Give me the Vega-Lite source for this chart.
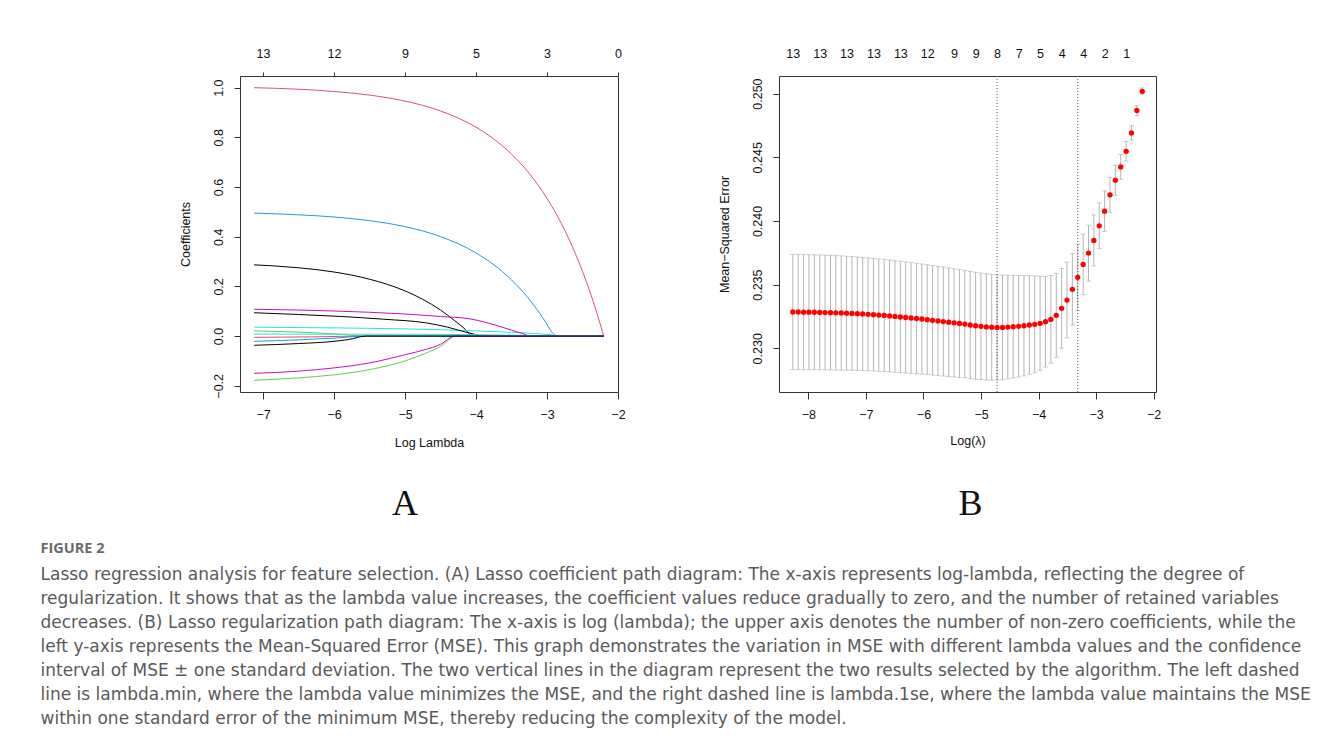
{
  "$schema": "https://vega.github.io/schema/vega-lite/v6.json",
  "background": "white",
  "padding": {"left": 40, "top": 46, "right": 10, "bottom": 10},
  "config": {
    "view": {"stroke": "#333333", "strokeWidth": 1},
    "font": "Liberation Sans",
    "axis": {"domain": false, "grid": false, "labelFont": "Liberation Sans", "labelFontSize": 12.5, "labelColor": "#111111", "titleFont": "Liberation Sans", "titleFontSize": 12.5, "titleFontWeight": "normal", "titleColor": "#111111", "tickColor": "#333333", "labelFlush": false, "labelOverlap": false}
  },
  "title": {
    "text": "FIGURE 2",
    "subtitle": [
      "Lasso regression analysis for feature selection. (A) Lasso coefficient path diagram: The x-axis represents log-lambda, reflecting the degree of",
      "regularization. It shows that as the lambda value increases, the coefficient values reduce gradually to zero, and the number of retained variables",
      "decreases. (B) Lasso regularization path diagram: The x-axis is log (lambda); the upper axis denotes the number of non-zero coefficients, while the",
      "left y-axis represents the Mean-Squared Error (MSE). This graph demonstrates the variation in MSE with different lambda values and the confidence",
      "interval of MSE ± one standard deviation. The two vertical lines in the diagram represent the two results selected by the algorithm. The left dashed",
      "line is lambda.min, where the lambda value minimizes the MSE, and the right dashed line is lambda.1se, where the lambda value maintains the MSE",
      "within one standard error of the minimum MSE, thereby reducing the complexity of the model."
    ],
    "orient": "bottom",
    "anchor": "start",
    "frame": "bounds",
    "font": "Open Sans",
    "fontSize": 14.5,
    "fontWeight": "bold",
    "color": "#6b6b6b",
    "subtitleFont": "DejaVu Sans",
    "subtitleFontSize": 17,
    "subtitleColor": "#5a5a5a",
    "subtitleLineHeight": 24,
    "subtitlePadding": 11,
    "offset": 19,
    "dx": -138
  },
  "spacing": 91,
  "hconcat": [
    {
      "width": 378,
      "height": 316,
      "title": {"text": "A", "orient": "bottom", "anchor": "middle", "font": "Liberation Serif", "fontSize": 36, "fontWeight": "normal", "color": "#111111", "offset": 38, "dx": -24},
      "layer": [
        {
          "data": {"values": [
            {"v":"v01","x":-7.127,"y":0.287},{"v":"v01","x":-6.5,"y":0.275},{"v":"v01","x":-6.0,"y":0.258},{"v":"v01","x":-5.5,"y":0.229},{"v":"v01","x":-5.0,"y":0.182},{"v":"v01","x":-4.75,"y":0.148},{"v":"v01","x":-4.5,"y":0.105},{"v":"v01","x":-4.3,"y":0.062},{"v":"v01","x":-4.15,"y":0.027},{"v":"v01","x":-4.05,"y":0},{"v":"v01","x":-2.2,"y":0},
            {"v":"v02","x":-7.127,"y":1.0},{"v":"v02","x":-6.5,"y":0.9937},{"v":"v02","x":-6.0,"y":0.9847},{"v":"v02","x":-5.5,"y":0.9701},{"v":"v02","x":-5.0,"y":0.946},{"v":"v02","x":-4.5,"y":0.9063},{"v":"v02","x":-4.0,"y":0.8408},{"v":"v02","x":-3.75,"y":0.7935},{"v":"v02","x":-3.5,"y":0.7328},{"v":"v02","x":-3.25,"y":0.6548},{"v":"v02","x":-3.0,"y":0.5547},{"v":"v02","x":-2.8,"y":0.4545},{"v":"v02","x":-2.6,"y":0.3321},{"v":"v02","x":-2.4,"y":0.1826},{"v":"v02","x":-2.3,"y":0.0958},{"v":"v02","x":-2.2,"y":0},
            {"v":"v03","x":-7.127,"y":0.021},{"v":"v03","x":-6.5,"y":0.016},{"v":"v03","x":-6.0,"y":0.009},{"v":"v03","x":-5.55,"y":0},{"v":"v03","x":-2.2,"y":0},
            {"v":"v04","x":-7.127,"y":0.495},{"v":"v04","x":-6.5,"y":0.4883},{"v":"v04","x":-6.0,"y":0.4794},{"v":"v04","x":-5.5,"y":0.4647},{"v":"v04","x":-5.0,"y":0.4405},{"v":"v04","x":-4.5,"y":0.4006},{"v":"v04","x":-4.0,"y":0.3348},{"v":"v04","x":-3.75,"y":0.2873},{"v":"v04","x":-3.5,"y":0.2263},{"v":"v04","x":-3.25,"y":0.148},{"v":"v04","x":-3.1,"y":0.0907},{"v":"v04","x":-3.0,"y":0.0474},{"v":"v04","x":-2.944,"y":0.021},{"v":"v04","x":-2.88,"y":0.003},{"v":"v04","x":-2.86,"y":0},{"v":"v04","x":-2.2,"y":0},
            {"v":"v05","x":-7.127,"y":0.036},{"v":"v05","x":-6.0,"y":0.033},{"v":"v05","x":-5.0,"y":0.029},{"v":"v05","x":-4.0,"y":0.021},{"v":"v05","x":-3.5,"y":0.015},{"v":"v05","x":-3.0,"y":0.007},{"v":"v05","x":-2.75,"y":0},{"v":"v05","x":-2.2,"y":0},
            {"v":"v06","x":-7.127,"y":0.108},{"v":"v06","x":-6.5,"y":0.105},{"v":"v06","x":-6.0,"y":0.101},{"v":"v06","x":-5.5,"y":0.096},{"v":"v06","x":-5.0,"y":0.089},{"v":"v06","x":-4.5,"y":0.079},{"v":"v06","x":-4.1,"y":0.07},{"v":"v06","x":-3.9,"y":0.058},{"v":"v06","x":-3.7,"y":0.042},{"v":"v06","x":-3.5,"y":0.024},{"v":"v06","x":-3.35,"y":0.011},{"v":"v06","x":-3.23,"y":0},{"v":"v06","x":-2.2,"y":0},
            {"v":"v07","x":-7.127,"y":0.094},{"v":"v07","x":-6.5,"y":0.087},{"v":"v07","x":-5.9,"y":0.079},{"v":"v07","x":-5.3,"y":0.068},{"v":"v07","x":-4.7,"y":0.053},{"v":"v07","x":-4.4,"y":0.036},{"v":"v07","x":-4.2,"y":0.02},{"v":"v07","x":-4.0,"y":0.006},{"v":"v07","x":-3.9,"y":0},{"v":"v07","x":-2.2,"y":0},
            {"v":"v08","x":-7.127,"y":-0.005},{"v":"v08","x":-6.3,"y":-0.003},{"v":"v08","x":-5.55,"y":0},{"v":"v08","x":-2.2,"y":0},
            {"v":"v09","x":-7.127,"y":-0.178},{"v":"v09","x":-6.5,"y":-0.168},{"v":"v09","x":-6.0,"y":-0.156},{"v":"v09","x":-5.5,"y":-0.135},{"v":"v09","x":-5.0,"y":-0.1},{"v":"v09","x":-4.7,"y":-0.068},{"v":"v09","x":-4.5,"y":-0.042},{"v":"v09","x":-4.28,"y":0},{"v":"v09","x":-2.2,"y":0},
            {"v":"v10","x":-7.127,"y":-0.021},{"v":"v10","x":-6.5,"y":-0.015},{"v":"v10","x":-6.0,"y":-0.008},{"v":"v10","x":-5.55,"y":0},{"v":"v10","x":-2.2,"y":0},
            {"v":"v11","x":-7.127,"y":0.008},{"v":"v11","x":-5.0,"y":0.0075},{"v":"v11","x":-4.0,"y":0.006},{"v":"v11","x":-3.3,"y":0.003},{"v":"v11","x":-2.9,"y":0},{"v":"v11","x":-2.2,"y":0},
            {"v":"v12","x":-7.127,"y":-0.15},{"v":"v12","x":-6.5,"y":-0.141},{"v":"v12","x":-6.0,"y":-0.128},{"v":"v12","x":-5.5,"y":-0.108},{"v":"v12","x":-5.0,"y":-0.075},{"v":"v12","x":-4.7,"y":-0.053},{"v":"v12","x":-4.5,"y":-0.033},{"v":"v12","x":-4.3,"y":0},{"v":"v12","x":-2.2,"y":0},
            {"v":"v13","x":-7.127,"y":-0.037},{"v":"v13","x":-6.5,"y":-0.03},{"v":"v13","x":-6.0,"y":-0.021},{"v":"v13","x":-5.8,"y":-0.014},{"v":"v13","x":-5.55,"y":0},{"v":"v13","x":-2.2,"y":0}
          ]},
          "mark": {"type": "line", "strokeWidth": 1, "interpolate": "monotone"},
          "encoding": {
            "x": {"field": "x", "type": "quantitative", "scale": {"domain": [-7.325, -1.9995], "nice": false, "zero": false},
                  "axis": {"orient": "bottom", "values": [-7, -6, -5, -4, -3, -2], "format": "d", "title": "Log Lambda", "tickSize": 7, "labelPadding": 9, "titlePadding": 16}},
            "y": {"field": "y", "type": "quantitative", "scale": {"domain": [-0.225, 1.047], "nice": false, "zero": false},
                  "axis": {"values": [-0.2, 0, 0.2, 0.4, 0.6, 0.8, 1.0], "format": ".1f", "title": "Coefficients", "tickSize": 6, "labelAngle": -90, "labelAlign": "center", "labelBaseline": "bottom", "labelPadding": 9, "titlePadding": 20}},
            "color": {"field": "v", "type": "nominal", "legend": null,
                      "scale": {"domain": ["v01","v02","v03","v04","v05","v06","v07","v08","v09","v10","v11","v12","v13"],
                                "range": ["#000000","#DF536B","#61D04F","#2297E6","#28E2E5","#CD0BBC","#000000","#DF536B","#61D04F","#2297E6","#28E2E5","#CD0BBC","#000000"]}}
          }
        },
        {
          "data": {"values": [{"loglambda": -7, "df": 13}, {"loglambda": -6, "df": 12}, {"loglambda": -5, "df": 9}, {"loglambda": -4, "df": 5}, {"loglambda": -3, "df": 3}, {"loglambda": -2, "df": 0}]},
          "mark": {"type": "rule", "opacity": 0},
          "encoding": {
            "x": {"field": "loglambda", "type": "quantitative",
                  "axis": {"orient": "top", "values": [-7, -6, -5, -4, -3, -2], "labelExpr": "datum.value == -7 ? '13' : datum.value == -6 ? '12' : datum.value == -5 ? '9' : datum.value == -4 ? '5' : datum.value == -3 ? '3' : '0'", "title": null, "tickSize": 4, "labelPadding": 12}}
          }
        }
      ],
      "resolve": {"axis": {"x": "independent"}}
    },
    {
      "width": 377,
      "height": 316,
      "title": {"text": "B", "orient": "bottom", "anchor": "middle", "font": "Liberation Serif", "fontSize": 36, "fontWeight": "normal", "color": "#111111", "offset": 40, "dx": 3},
      "layer": [
        {
          "data": {"name": "cv"},
          "mark": {"type": "rule", "color": "#b5b5b5", "strokeWidth": 1},
          "encoding": {
            "x": {"field": "x", "type": "quantitative", "scale": {"domain": [-8.51, -1.96], "nice": false, "zero": false},
                  "axis": {"orient": "bottom", "values": [-8, -7, -6, -5, -4, -3, -2], "format": "d", "title": "Log(λ)", "tickSize": 7, "labelPadding": 9, "titlePadding": 14}},
            "y": {"field": "lo", "type": "quantitative", "scale": {"domain": [0.22657, 0.25138], "nice": false, "zero": false},
                  "axis": {"values": [0.23, 0.235, 0.24, 0.245, 0.25], "format": ".3f", "title": "Mean−Squared Error", "tickSize": 6, "labelAngle": -90, "labelAlign": "center", "labelBaseline": "bottom", "labelPadding": 9, "titlePadding": 20}},
            "y2": {"field": "hi"}
          }
        },
        {
          "data": {"name": "cv"},
          "mark": {"type": "tick", "orient": "horizontal", "color": "#b5b5b5", "size": 5, "thickness": 1},
          "encoding": {
            "x": {"field": "x", "type": "quantitative", "axis": null},
            "y": {"field": "lo", "type": "quantitative"}
          }
        },
        {
          "data": {"name": "cv"},
          "mark": {"type": "tick", "orient": "horizontal", "color": "#b5b5b5", "size": 5, "thickness": 1},
          "encoding": {
            "x": {"field": "x", "type": "quantitative", "axis": null},
            "y": {"field": "hi", "type": "quantitative"}
          }
        },
        {
          "data": {"name": "cv"},
          "mark": {"type": "circle", "color": "#ff0000", "size": 28, "opacity": 1},
          "encoding": {
            "x": {"field": "x", "type": "quantitative", "axis": null},
            "y": {"field": "mse", "type": "quantitative"}
          }
        },
        {
          "data": {"values": [{"lam": -4.721, "kind": "lambda.min"}, {"lam": -3.32, "kind": "lambda.1se"}]},
          "mark": {"type": "rule", "color": "#555555", "strokeDash": [1, 2], "strokeWidth": 1},
          "encoding": {
            "x": {"field": "lam", "type": "quantitative",
                  "axis": {"orient": "top", "values": [-8.27, -7.803, -7.336, -6.869, -6.402, -5.935, -5.468, -5.094, -4.721, -4.347, -3.974, -3.6, -3.226, -2.853, -2.479],
                           "labelExpr": "['13','13','13','13','13','12','9','9','8','7','5','4','4','2','1'][indexof([-8.27, -7.803, -7.336, -6.869, -6.402, -5.935, -5.468, -5.094, -4.721, -4.347, -3.974, -3.6, -3.226, -2.853, -2.479], datum.value)]",
                           "title": null, "ticks": false, "tickSize": 0, "labelPadding": 16}}
          }
        }
      ],
      "resolve": {"axis": {"x": "independent"}}
    }
  ],
  "datasets": {
    "cv": [
      {"x":-8.270,"mse":0.23285,"lo":0.22833,"hi":0.23737},
      {"x":-8.177,"mse":0.23285,"lo":0.22833,"hi":0.23737},
      {"x":-8.083,"mse":0.23284,"lo":0.22832,"hi":0.23736},
      {"x":-7.990,"mse":0.23284,"lo":0.22833,"hi":0.23735},
      {"x":-7.896,"mse":0.23283,"lo":0.22832,"hi":0.23734},
      {"x":-7.803,"mse":0.23282,"lo":0.22831,"hi":0.23733},
      {"x":-7.710,"mse":0.23281,"lo":0.22831,"hi":0.23731},
      {"x":-7.616,"mse":0.23280,"lo":0.22830,"hi":0.23730},
      {"x":-7.523,"mse":0.23279,"lo":0.22830,"hi":0.23728},
      {"x":-7.429,"mse":0.23278,"lo":0.22830,"hi":0.23726},
      {"x":-7.336,"mse":0.23276,"lo":0.22829,"hi":0.23723},
      {"x":-7.243,"mse":0.23274,"lo":0.22828,"hi":0.23720},
      {"x":-7.149,"mse":0.23272,"lo":0.22827,"hi":0.23717},
      {"x":-7.056,"mse":0.23270,"lo":0.22826,"hi":0.23714},
      {"x":-6.962,"mse":0.23267,"lo":0.22824,"hi":0.23710},
      {"x":-6.869,"mse":0.23264,"lo":0.22822,"hi":0.23706},
      {"x":-6.776,"mse":0.23261,"lo":0.22820,"hi":0.23702},
      {"x":-6.682,"mse":0.23258,"lo":0.22818,"hi":0.23698},
      {"x":-6.589,"mse":0.23254,"lo":0.22815,"hi":0.23693},
      {"x":-6.495,"mse":0.23250,"lo":0.22812,"hi":0.23688},
      {"x":-6.402,"mse":0.23246,"lo":0.22809,"hi":0.23683},
      {"x":-6.309,"mse":0.23242,"lo":0.22806,"hi":0.23678},
      {"x":-6.215,"mse":0.23238,"lo":0.22803,"hi":0.23673},
      {"x":-6.122,"mse":0.23234,"lo":0.22800,"hi":0.23668},
      {"x":-6.028,"mse":0.23230,"lo":0.22798,"hi":0.23662},
      {"x":-5.935,"mse":0.23225,"lo":0.22794,"hi":0.23656},
      {"x":-5.842,"mse":0.23220,"lo":0.22790,"hi":0.23650},
      {"x":-5.748,"mse":0.23215,"lo":0.22786,"hi":0.23644},
      {"x":-5.655,"mse":0.23210,"lo":0.22782,"hi":0.23638},
      {"x":-5.561,"mse":0.23205,"lo":0.22779,"hi":0.23631},
      {"x":-5.468,"mse":0.23200,"lo":0.22775,"hi":0.23625},
      {"x":-5.375,"mse":0.23195,"lo":0.22771,"hi":0.23619},
      {"x":-5.281,"mse":0.23190,"lo":0.22768,"hi":0.23612},
      {"x":-5.188,"mse":0.23183,"lo":0.22762,"hi":0.23604},
      {"x":-5.094,"mse":0.23177,"lo":0.22757,"hi":0.23597},
      {"x":-5.001,"mse":0.23173,"lo":0.22755,"hi":0.23591},
      {"x":-4.908,"mse":0.23168,"lo":0.22751,"hi":0.23585},
      {"x":-4.814,"mse":0.23166,"lo":0.22751,"hi":0.23581},
      {"x":-4.721,"mse":0.23164,"lo":0.22750,"hi":0.23578},
      {"x":-4.627,"mse":0.23164,"lo":0.22753,"hi":0.23575},
      {"x":-4.534,"mse":0.23167,"lo":0.22760,"hi":0.23574},
      {"x":-4.441,"mse":0.23170,"lo":0.22767,"hi":0.23573},
      {"x":-4.347,"mse":0.23173,"lo":0.22775,"hi":0.23571},
      {"x":-4.254,"mse":0.23177,"lo":0.22784,"hi":0.23570},
      {"x":-4.160,"mse":0.23183,"lo":0.22796,"hi":0.23570},
      {"x":-4.067,"mse":0.23188,"lo":0.22807,"hi":0.23569},
      {"x":-3.974,"mse":0.23196,"lo":0.22826,"hi":0.23566},
      {"x":-3.880,"mse":0.23209,"lo":0.22853,"hi":0.23565},
      {"x":-3.787,"mse":0.23227,"lo":0.22883,"hi":0.23571},
      {"x":-3.693,"mse":0.23259,"lo":0.22929,"hi":0.23589},
      {"x":-3.600,"mse":0.23314,"lo":0.23001,"hi":0.23627},
      {"x":-3.507,"mse":0.23379,"lo":0.23082,"hi":0.23676},
      {"x":-3.413,"mse":0.23463,"lo":0.23183,"hi":0.23743},
      {"x":-3.320,"mse":0.23557,"lo":0.23297,"hi":0.23817},
      {"x":-3.226,"mse":0.23659,"lo":0.23421,"hi":0.23897},
      {"x":-3.133,"mse":0.23747,"lo":0.23527,"hi":0.23967},
      {"x":-3.040,"mse":0.23847,"lo":0.23647,"hi":0.24047},
      {"x":-2.946,"mse":0.23962,"lo":0.23782,"hi":0.24142},
      {"x":-2.853,"mse":0.24077,"lo":0.23918,"hi":0.24236},
      {"x":-2.759,"mse":0.24205,"lo":0.24068,"hi":0.24342},
      {"x":-2.666,"mse":0.24320,"lo":0.24201,"hi":0.24439},
      {"x":-2.573,"mse":0.24424,"lo":0.24327,"hi":0.24521},
      {"x":-2.479,"mse":0.24547,"lo":0.24470,"hi":0.24624},
      {"x":-2.386,"mse":0.24691,"lo":0.24635,"hi":0.24747},
      {"x":-2.292,"mse":0.24867,"lo":0.24827,"hi":0.24907},
      {"x":-2.199,"mse":0.25018,"lo":0.24992,"hi":0.25044}
    ]
  }
}
